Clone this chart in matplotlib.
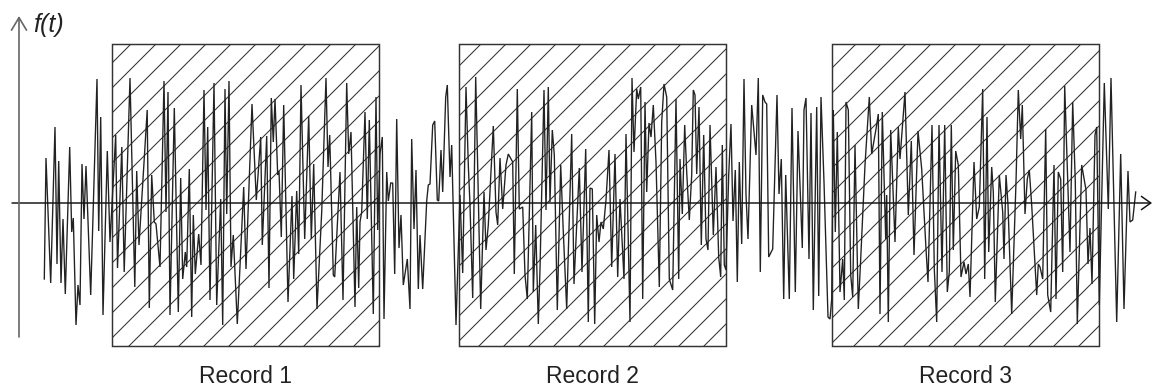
import matplotlib
matplotlib.use("Agg")
import matplotlib.pyplot as plt
from matplotlib.patches import Rectangle
import numpy as np

plt.rcParams['font.family'] = ['Liberation Sans', 'DejaVu Sans']
plt.rcParams['hatch.linewidth'] = 0.5

t_a = [44.3,46.0,50.7,55.0,57.0,58.7,61.0,63.0,65.3,69.7,71.7,73.3,76.0,78.0,80.0,82.0,84.0,86.0,90.7,97.0,98.7,100.7,103.0,107.3,110.0,115.7,117.5,121.8,124.2,130.0,134.8,136.7,139.0,147.2,149.3,151.7,154.3,156.0,160.0,164.0,166.0,168.0,170.0,174.3,178.3,180.7,182.7,185.3,186.7,189.3,191.7,193.3,195.3,198.7]
f_a = [-76,45,-80,76,-61,42,-80,-16,-91,56,-29,-15,-122,-82,-102,39,-16,37,-92,124,-28,86,-112,52,-39,68,-65,56,-69,125,-84,32,-42,93,-105,28,-19,-21,-64,122,-9,111,-112,95,-109,25,-76,-49,-64,34,-114,-12,-71,-31]

t_b = [201,204,206,207.7,210,214,216.7,220.7,222.7,225,226.7,229,231,233.3,237.3,243.7,246,252,256.3,260.7,262.3,266.7,269,271.3,273.3,275,277.7,279,281.3,283.7,288,292,293.7,296.7,298.7,301,304.7,308.7,311.3,313.7,317,321.7,326,328,329.7,333.3,334.7,340,343,346.7,348.7,351,355,356.7,358.7]
f_b = [-62,113,-7,76,-97,120,-102,4,-122,114,-11,122,-64,-32,-121,16,-66,99,3,66,-42,67,-85,105,61,104,28,32,-34,98,-99,7,-76,12,-51,118,-36,87,-36,39,-106,-9,125,36,68,-72,-74,31,-97,120,49,71,-104,-4,-85]

t_c = [360,361.7,365,367.3,369.3,373.3,376,377.7,380,382.3,384,386.7,388.3,390.7,392.7,394.7,396.7,399,401,403.3,407.3,410,411.7,414,416,418.3,420,422.7,426.7,428.3,430,432.7,434.7,437.3,438.7,441,442.7,445.7,447.3,450,451.7,456,460,462.7,466,468.3,470,472.7,475.7,477.3,480.7,484,486,488.3,493.3,496,497.7,500,502.7,506,508.3,512.7,514.3,517.3,519.3]
f_c = [-19,-9,91,-16,83,-111,106,-27,49,66,-116,31,2,20,20,-71,84,-45,-12,-82,-56,-106,64,-26,33,-86,-32,-86,2,18,19,78,82,3,2,53,11,106,118,26,58,-122,8,-70,116,38,-2,-95,126,54,-106,11,-47,-22,77,-9,-22,45,-6,38,49,41,-71,114,-6]

t_d = [522.7,525,527.3,531.7,533.3,535.7,538.3,540,544,546,548.3,550,552.3,554.3,557.3,560.7,563.3,566.7,571.7,574,579.3,582,585.7,588.3,590,592.3,594.7,596.7,599,601,603.3,606,609,611.7,615,617.7,620,624,626,630,632,634,636.7,638.3,640.7,642.7,645,646.7,649,651,653.3,656,659.3,661.7,664,666.7,669.3,672.7,676,678.7]
f_d = [-4,-72,-96,91,-89,-22,-121,-66,113,-7,116,1,73,48,-107,38,-29,-106,69,-81,35,-69,54,-119,15,14,-121,-12,-39,-19,-26,3,53,-64,49,-74,4,-76,69,-119,125,51,114,104,116,-96,101,11,80,66,98,41,-84,81,119,106,-76,-87,104,-76]

t_e = [680,682.3,684.7,686.7,689.3,691.7,693.3,695,696.7,699,701.3,703.7,706,708,710,713.3,716,718.7,720.7,722.3,724.3,726,728.7,731,733,735.3,737.3,739.3,741.7,744,746,748,751.7,756,758.3,760.3,762.7,765,766.7,768.7,772.7,777,779,781.3,783.7,785.7,789.3,792,795.3,798,802.3,804,806,809,811,813.3,816.7,818.7,821,824,828,830,831.7,833.3,835.3,837.3]
f_e = [44,-11,78,31,-17,28,113,108,29,96,-42,68,-36,-47,78,-32,36,-54,-74,58,-62,-67,28,79,-18,33,-79,41,-41,124,8,-36,98,48,125,-69,108,101,99,-54,-46,108,9,44,-96,28,-96,95,-89,72,-45,93,105,-56,90,-107,96,-93,106,21,-114,-116,-96,93,-29,71]

t_f = [840,842.7,844.3,846,848.3,850.7,852.7,855,858.3,860.7,865,869.3,871.7,876,878.3,880,882.3,885.7,886.7,888.3,890.7,895,898.3,900,905,908.3,911.3,914,918,921.7,926,928,932,934.3,936.7,939,942,944.7,947.3,949.3,951.3,953.3,955.7,958.3,961,964,966,968.3,970,974,976.7,979.3,982.7,984.7,987,988.7,991.7,993.3,995.3,999.3]
f_f = [-89,-56,-97,101,93,-72,-94,58,-106,-56,38,106,49,74,89,-111,91,-36,8,-119,73,-39,76,44,111,-12,62,-52,72,34,-46,-79,78,-66,-119,78,-69,78,-89,-69,78,-47,52,38,-74,-59,-71,-61,-94,41,-16,-4,114,-76,86,-49,36,11,-99,28]

t_g = [1002.7,1004,1006,1008,1011.7,1016,1018.3,1020.7,1022.3,1025,1027.3,1029.3,1031.7,1036.7,1038.3,1040,1042.7,1045.7,1047.7,1050.7,1054,1056,1058.3,1060.7,1062.7,1064.7,1070,1072.7,1075.3,1077.3,1081.7,1086,1088,1090,1092,1095,1096.7,1099.3,1104.3,1108.3,1111,1116.7,1120.7,1124,1128,1130,1132.7,1135.7]
f_g = [-9,-56,28,-2,-111,21,113,64,98,-11,24,33,-2,-92,-61,-64,-76,74,-92,-109,38,-96,31,24,-69,117,-49,101,21,-121,38,13,-61,-25,-81,68,76,-102,120,-6,125,-119,49,-106,32,-19,-17,11]

record_labels = ["Record 1", "Record 2", "Record 3"]
record_starts = [112.3, 459.0, 832.3]
record_length = 266.7

segs_t = [t_a, t_b, t_c, t_d, t_e, t_f, t_g]
segs_f = [f_a, f_b, f_c, f_d, f_e, f_f, f_g]
for a, b in zip(segs_t, segs_f):
    assert len(a) == len(b), (len(a), len(b))
t = np.concatenate(segs_t)
f = np.concatenate(segs_f)

# ---- figure ----
fig = plt.figure(figsize=(7.68, 389 / 150), dpi=150)
ax = fig.add_axes([0, 0, 1, 1])
ax.set_xlim(0, 1152)
ax.set_ylim(-186, 203)
ax.axis('off')

box_bottom, box_height = -143, 302
for start, lab in zip(record_starts, record_labels):
    ax.add_patch(Rectangle((start, box_bottom), record_length, box_height,
                           facecolor='none', edgecolor='#333333', hatch='//',
                           lw=0.7, zorder=2))
    ax.text(start + record_length / 2, -185, lab, ha='center', va='bottom',
            fontsize=11, color='#222222')

ax.plot(t, f, color='#222222', lw=0.65, zorder=3, solid_joinstyle='miter')

# axes with open arrowheads
ax.annotate('', xy=(1152, 0), xytext=(12, 0),
            arrowprops=dict(arrowstyle='->,head_length=0.45,head_width=0.32',
                            color='#111111', lw=0.7, shrinkA=0, shrinkB=0),
            zorder=4)
ax.annotate('', xy=(19, 187), xytext=(19, -134),
            arrowprops=dict(arrowstyle='->,head_length=0.6,head_width=0.36',
                            color='#666666', lw=0.8, shrinkA=0, shrinkB=0),
            zorder=4)
ax.text(33, 171, 'f(t)', fontstyle='italic', fontsize=12, ha='left',
        va='baseline', color='#222222')

fig.savefig('out.png', dpi=150)
